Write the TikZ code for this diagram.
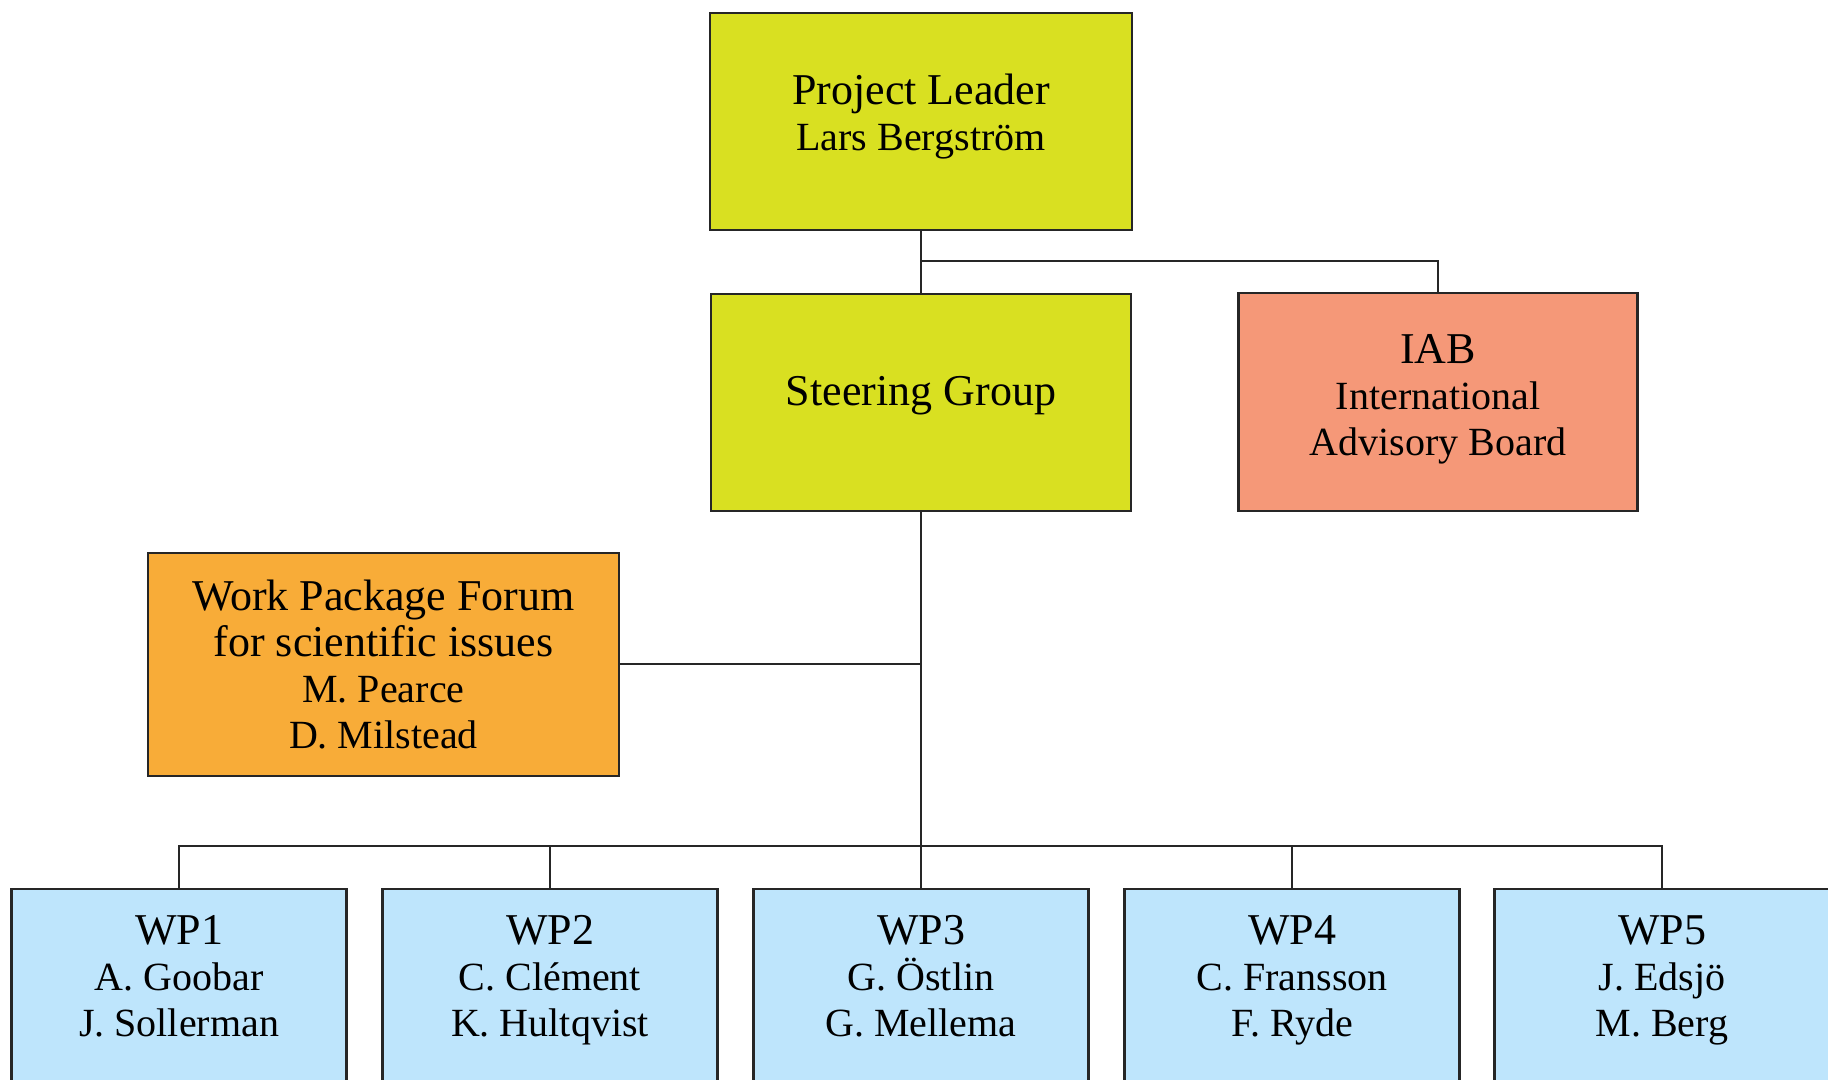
\documentclass[tikz,border=0pt]{standalone}
\usepackage{fontspec}
\setmainfont{Liberation Serif}
\definecolor{leadgreen}{HTML}{D9E021}
\definecolor{iabred}{HTML}{F59878}
\definecolor{forumorange}{HTML}{F8AC38}
\definecolor{wpblue}{HTML}{BEE5FC}
\newcommand{\boxhead}[1]{{\fontsize{22}{23}\selectfont #1}}

\begin{document}
\begin{tikzpicture}[x=0.5pt, y=-0.5pt,
  box/.style={draw=black!85, line width=1.2pt, align=center, inner sep=0pt,
    font=\fontsize{20}{23}\selectfont},
  wpbox/.style={box, fill=wpblue, anchor=north, minimum width=167.5pt,
    inner ysep=13pt, text depth=110pt},
  link/.style={draw=black!85, line width=1pt}]
\useasboundingbox (0,0) rectangle (1828,1080);
% Leitung
\node[box, fill=leadgreen, minimum width=211pt, minimum height=108.5pt, text depth=9.5pt] (lead) at (921,121.5)
  {\boxhead{Project Leader}\\Lars Bergström};
\node[box, fill=leadgreen, minimum width=210pt, minimum height=108.5pt, text depth=12pt] (steer) at (921,402.5)
  {\boxhead{Steering Group}};
\node[box, fill=iabred, minimum width=199.5pt, minimum height=109pt, text depth=7pt] (iab) at (1438,402)
  {\boxhead{IAB}\\International\\Advisory Board};
\node[box, fill=forumorange, minimum width=235.5pt, minimum height=111.5pt] (forum) at (383.5,664.5)
  {\boxhead{Work Package Forum}\\\boxhead{for scientific issues}\\M. Pearce\\D. Milstead};
% Work packages
\node[wpbox] (wp1) at (179,888) {\boxhead{WP1}\\A. Goobar\\J. Sollerman};
\node[wpbox] (wp2) at (550,888) {\boxhead{WP2}\\C. Clément\\K. Hultqvist};
\node[wpbox] (wp3) at (921,888) {\boxhead{WP3}\\G. Östlin\\G. Mellema};
\node[wpbox] (wp4) at (1292,888) {\boxhead{WP4}\\C. Fransson\\F. Ryde};
\node[wpbox] (wp5) at (1662,888) {\boxhead{WP5}\\J. Edsjö\\M. Berg};
% Linien
\coordinate (split) at (921,261);
\coordinate (bus) at (921,846);
\draw[link] (lead) -- (steer);
\draw[link] (split) -| (iab);
\draw[link] (steer) -- (wp3);
\draw[link] (forum) -- (forum -| steer);
\draw[link] (wp1) |- (bus) -| (wp5);
\draw[link] (wp2) -- (wp2 |- bus);
\draw[link] (wp4) -- (wp4 |- bus);
\end{tikzpicture}
\end{document}
